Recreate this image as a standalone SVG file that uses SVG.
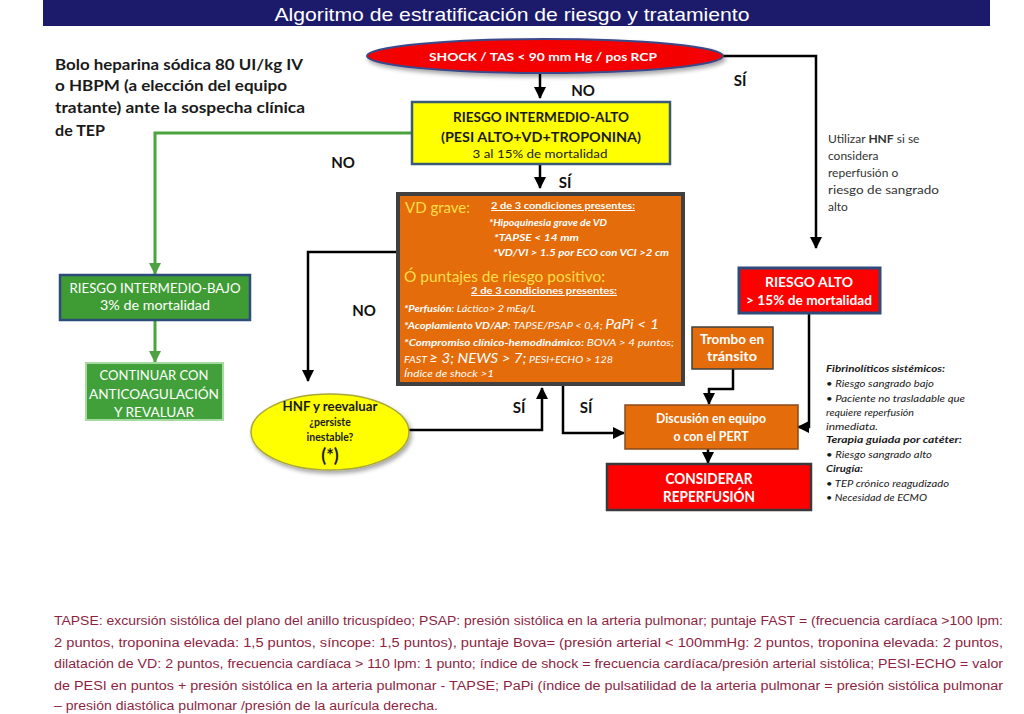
<svg xmlns="http://www.w3.org/2000/svg" width="1024" height="714" viewBox="0 0 1024 714">
<defs>
<marker id="arr" markerUnits="userSpaceOnUse" markerWidth="12" markerHeight="12" refX="11" refY="6" orient="auto"><path d="M0,0 L12,6 L0,12 z" fill="#000"/></marker>
<marker id="arrg" markerUnits="userSpaceOnUse" markerWidth="12" markerHeight="12" refX="11" refY="6" orient="auto"><path d="M0,0 L12,6 L0,12 z" fill="#4ba23f"/></marker>
<filter id="sh" x="-10%" y="-20%" width="125%" height="150%"><feDropShadow dx="2" dy="3" stdDeviation="2" flood-color="#000" flood-opacity="0.35"/></filter>
<style>
text{font-family:Lato,"Liberation Sans",sans-serif}
.w{fill:#fff}
.b{font-weight:bold}
.c{text-anchor:middle}
.lbl{font-family:Lato,"Liberation Sans",sans-serif;font-weight:bold;font-size:15px;fill:#111}
.con{fill:none;stroke:#000;stroke-width:2.5}
.gcon{fill:none;stroke:#4ba23f;stroke-width:3}
.or{fill:#e46c0a}
.ot{fill:#fff;font-size:10px;font-style:italic}
.yt{fill:#ffde4a;font-size:15px}
.rt{fill:#1a1a1a;font-size:9.5px;font-style:italic}
.fn{fill:#8e1f3f;font-size:12.5px;font-family:"Liberation Sans Narrow","Liberation Sans",sans-serif}
</style>
</defs>
<rect x="0" y="0" width="1024" height="714" fill="#fff"/>
<g id="title">
<rect x="43" y="0" width="947" height="26" fill="#1c1a6a"/>
<text x="512" y="21" class="w c" font-size="19" textLength="475" lengthAdjust="spacingAndGlyphs" style="font-family:'Liberation Sans Narrow','Liberation Sans',sans-serif">Algoritmo de estratificación de riesgo y tratamiento</text>
</g>
<g id="intro">
<text x="55" y="70" class="b" font-size="15" fill="#1a1a1a" textLength="248" lengthAdjust="spacingAndGlyphs">Bolo heparina sódica 80 UI/kg IV</text>
<text x="55" y="91" class="b" font-size="15" fill="#1a1a1a" textLength="232" lengthAdjust="spacingAndGlyphs">o HBPM (a elección del equipo</text>
<text x="55" y="113" class="b" font-size="15" fill="#1a1a1a" textLength="250" lengthAdjust="spacingAndGlyphs">tratante) ante la sospecha clínica</text>
<text x="55" y="136" class="b" font-size="15" fill="#1a1a1a" textLength="50" lengthAdjust="spacingAndGlyphs">de TEP</text>
</g>
<g id="connectors">
<path class="con" d="M540,73 V98" marker-end="url(#arr)"/>
<path class="con" d="M540,164 V188" marker-end="url(#arr)"/>
<path class="con" d="M722,56 H816 V248" marker-end="url(#arr)"/>
<path class="gcon" d="M412,133 H155 V274" marker-end="url(#arrg)"/>
<path class="gcon" d="M155,320 V362" marker-end="url(#arrg)"/>
<path class="con" d="M398,252 H308 V381" marker-end="url(#arr)"/>
<path class="con" d="M409,430 H542 V388" marker-end="url(#arr)"/>
<path class="con" d="M563,386 V433 H624" marker-end="url(#arr)"/>
<path class="con" d="M733,369 V389 H709 V404" marker-end="url(#arr)"/>
<path class="con" d="M809,313 V427 H798" marker-end="url(#arr)"/>
<path class="con" d="M708,449 V463" marker-end="url(#arr)"/>
<text x="583" y="96" class="lbl c">NO</text>
<text x="565" y="188" class="lbl c">SÍ</text>
<text x="740" y="86" class="lbl c">SÍ</text>
<text x="343" y="168" class="lbl c">NO</text>
<text x="364" y="316" class="lbl c">NO</text>
<text x="519" y="413" class="lbl c">SÍ</text>
<text x="586" y="413" class="lbl c">SÍ</text>
</g>
<g id="shock">
<ellipse cx="545" cy="56" rx="178" ry="17" fill="#f40000" stroke="#3b4a8a" stroke-width="2" filter="url(#sh)"/>
<text x="543" y="61" class="w b c" font-size="12" textLength="228" lengthAdjust="spacingAndGlyphs">SHOCK / TAS &lt; 90 mm Hg / pos RCP</text>
</g>
<g id="intermedio-alto">
<rect x="412" y="102" width="258" height="62" fill="#ffff00" stroke="#3a5a7a" stroke-width="2.5"/>
<text x="541" y="122" class="b c" font-size="13" fill="#1a1a1a" textLength="176" lengthAdjust="spacingAndGlyphs">RIESGO INTERMEDIO-ALTO</text>
<text x="541" y="142" class="b c" font-size="13" fill="#1a1a1a" textLength="200" lengthAdjust="spacingAndGlyphs">(PESI ALTO+VD+TROPONINA)</text>
<text x="540" y="158" class="c" font-size="12" fill="#1a1a1a" textLength="135" lengthAdjust="spacingAndGlyphs">3 al 15% de mortalidad</text>
</g>
<g id="vd-grave">
<rect x="398" y="194" width="285" height="190" class="or" stroke="#404040" stroke-width="4"/>
<text x="405" y="213" class="yt" textLength="65" lengthAdjust="spacingAndGlyphs">VD grave:</text>
<text x="491" y="209" class="ot b" style="font-style:normal" text-decoration="underline" textLength="144" lengthAdjust="spacingAndGlyphs">2 de 3 condiciones presentes:</text>
<text x="489" y="226" class="ot b" textLength="118" lengthAdjust="spacingAndGlyphs">*Hipoquinesia grave de VD</text>
<text x="494" y="241" class="ot b" textLength="85" lengthAdjust="spacingAndGlyphs">*TAPSE &lt; 14   mm</text>
<text x="493" y="256" class="ot b" textLength="176" lengthAdjust="spacingAndGlyphs">*VD/VI &gt; 1.5 por ECO con VCI  &gt;2 cm</text>
<text x="404" y="282" class="yt" textLength="201" lengthAdjust="spacingAndGlyphs">Ó puntajes de riesgo positivo:</text>
<text x="471" y="294" class="ot b" style="font-style:normal" text-decoration="underline" textLength="146" lengthAdjust="spacingAndGlyphs">2 de 3 condiciones  presentes:</text>
<text x="404" y="312" class="ot" textLength="132" lengthAdjust="spacingAndGlyphs"><tspan class="b">*Perfusión</tspan>: Láctico&gt; 2 mEq/L</text>
<text x="404" y="329" class="ot" textLength="255" lengthAdjust="spacingAndGlyphs"><tspan class="b">*Acoplamiento VD/AP</tspan>: TAPSE/PSAP &lt; 0,4; <tspan font-size="14">PaPi &lt; 1</tspan></text>
<text x="404" y="346" class="ot" textLength="270" lengthAdjust="spacingAndGlyphs"><tspan class="b">*Compromiso clínico-hemodinámico:</tspan> BOVA &gt; 4 puntos;</text>
<text x="404" y="363" class="ot" textLength="209" lengthAdjust="spacingAndGlyphs">FAST  <tspan font-size="14">≥ 3; NEWS &gt; 7;</tspan>  PESI+ECHO &gt; 128</text>
<text x="404" y="377" class="ot" textLength="90" lengthAdjust="spacingAndGlyphs">Índice de shock &gt;1</text>
</g>
<g id="intermedio-bajo">
<rect x="60" y="275" width="190" height="45" fill="#3f9c35" stroke="#2c4d7a" stroke-width="2.5"/>
<text x="155" y="293" class="w c" font-size="13" textLength="171" lengthAdjust="spacingAndGlyphs">RIESGO INTERMEDIO-BAJO</text>
<text x="155" y="310" class="w c" font-size="13" textLength="110" lengthAdjust="spacingAndGlyphs">3% de mortalidad</text>
</g>
<g id="continuar">
<rect x="86" y="363" width="137" height="57" fill="#41a03a" stroke="#a5dba0" stroke-width="2"/>
<text x="154" y="380" class="w c" font-size="13" textLength="109" lengthAdjust="spacingAndGlyphs">CONTINUAR CON</text>
<text x="154" y="399" class="w c" font-size="13" textLength="130" lengthAdjust="spacingAndGlyphs">ANTICOAGULACIÓN</text>
<text x="154" y="417" class="w c" font-size="13" textLength="80" lengthAdjust="spacingAndGlyphs">Y REVALUAR</text>
</g>
<g id="hnf">
<ellipse cx="330" cy="432" rx="79" ry="38" fill="#ffff00" stroke="#a8a838" stroke-width="1.5" filter="url(#sh)"/>
<text x="330" y="411" class="b c" font-size="13" fill="#1a1a1a" textLength="95" lengthAdjust="spacingAndGlyphs">HNF y reevaluar</text>
<text x="330" y="426" class="b c" font-size="10.5" fill="#1a1a1a">¿persiste</text>
<text x="330" y="441" class="b c" font-size="10.5" fill="#1a1a1a">inestable?</text>
<text x="330" y="462" class="b c" font-size="18" fill="#1a1a1a">(*)</text>
</g>
<g id="trombo">
<rect x="692" y="327" width="81" height="42" class="or" stroke="#404040" stroke-width="1.5"/>
<text x="732" y="344" class="w b c" font-size="13" textLength="64" lengthAdjust="spacingAndGlyphs">Trombo en</text>
<text x="732" y="361" class="w b c" font-size="13" textLength="50" lengthAdjust="spacingAndGlyphs">tránsito</text>
</g>
<g id="riesgo-alto">
<rect x="739" y="268" width="141" height="45" fill="#ff0000" stroke="#2f4b7c" stroke-width="3"/>
<text x="809" y="287" class="w b c" font-size="13" textLength="88" lengthAdjust="spacingAndGlyphs">RIESGO ALTO</text>
<text x="809" y="305" class="w b c" font-size="13" textLength="126" lengthAdjust="spacingAndGlyphs">&gt; 15% de mortalidad</text>
</g>
<g id="hnf-note">
<text x="828" y="143" font-size="12" fill="#333">Utilizar <tspan class="b">HNF</tspan> si se</text>
<text x="828" y="160" font-size="12" fill="#333">considera</text>
<text x="828" y="177" font-size="12" fill="#333">reperfusión o</text>
<text x="828" y="194" font-size="12" fill="#333" textLength="111" lengthAdjust="spacingAndGlyphs">riesgo de sangrado</text>
<text x="828" y="211" font-size="12" fill="#333">alto</text>
</g>
<g id="discusion">
<rect x="625" y="405" width="173" height="44" class="or" stroke="#8a4a1a" stroke-width="1.5"/>
<text x="711" y="423" class="w b c" font-size="13" textLength="110" lengthAdjust="spacingAndGlyphs">Discusión en equipo</text>
<text x="711" y="441" class="w b c" font-size="13" textLength="75" lengthAdjust="spacingAndGlyphs">o con el PERT</text>
</g>
<g id="considerar">
<rect x="607" y="464" width="204" height="46" fill="#ff0000" stroke="#3a3a3a" stroke-width="2.5"/>
<text x="709" y="484" class="w b c" font-size="15" textLength="87" lengthAdjust="spacingAndGlyphs">CONSIDERAR</text>
<text x="709" y="502" class="w b c" font-size="15" textLength="92" lengthAdjust="spacingAndGlyphs">REPERFUSIÓN</text>
</g>
<g id="opciones">
<text x="826" y="372" class="rt b" textLength="119" lengthAdjust="spacingAndGlyphs">Fibrinolíticos sistémicos:</text>
<text x="826" y="387" class="rt" textLength="108" lengthAdjust="spacingAndGlyphs">• Riesgo sangrado bajo</text>
<text x="826" y="402" class="rt" textLength="139" lengthAdjust="spacingAndGlyphs">• Paciente no trasladable que</text>
<text x="826" y="416" class="rt" textLength="88" lengthAdjust="spacingAndGlyphs">requiere reperfusión</text>
<text x="826" y="430" class="rt" textLength="52" lengthAdjust="spacingAndGlyphs">inmediata.</text>
<text x="826" y="443" class="rt b" textLength="136" lengthAdjust="spacingAndGlyphs">Terapia guiada por catéter:</text>
<text x="826" y="458" class="rt" textLength="106" lengthAdjust="spacingAndGlyphs">• Riesgo sangrado alto</text>
<text x="826" y="472" class="rt b" textLength="37" lengthAdjust="spacingAndGlyphs">Cirugía:</text>
<text x="826" y="487" class="rt" textLength="123" lengthAdjust="spacingAndGlyphs">• TEP crónico reagudizado</text>
<text x="826" y="501" class="rt" textLength="101" lengthAdjust="spacingAndGlyphs">• Necesidad de ECMO</text>
</g>
<g id="footnote">
<text x="54" y="625" class="fn" textLength="949" lengthAdjust="spacingAndGlyphs">TAPSE: excursión sistólica del plano del anillo tricuspídeo; PSAP: presión sistólica en la arteria pulmonar; puntaje FAST = (frecuencia cardíaca &gt;100 lpm:</text>
<text x="54" y="647" class="fn" textLength="949" lengthAdjust="spacingAndGlyphs">2 puntos, troponina elevada: 1,5 puntos, síncope: 1,5 puntos), puntaje Bova= (presión arterial &lt; 100mmHg: 2 puntos, troponina elevada: 2 puntos,</text>
<text x="54" y="668" class="fn" textLength="949" lengthAdjust="spacingAndGlyphs">dilatación de VD: 2 puntos, frecuencia cardíaca &gt; 110 lpm: 1 punto; índice de shock = frecuencia cardíaca/presión arterial sistólica; PESI-ECHO = valor</text>
<text x="54" y="690" class="fn" textLength="949" lengthAdjust="spacingAndGlyphs">de PESI en puntos + presión sistólica en la arteria pulmonar - TAPSE; PaPi (índice de pulsatilidad de la arteria pulmonar = presión sistólica pulmonar</text>
<text x="54" y="710" class="fn" textLength="384" lengthAdjust="spacingAndGlyphs">– presión diastólica pulmonar /presión de la aurícula derecha.</text>
</g>
</svg>
